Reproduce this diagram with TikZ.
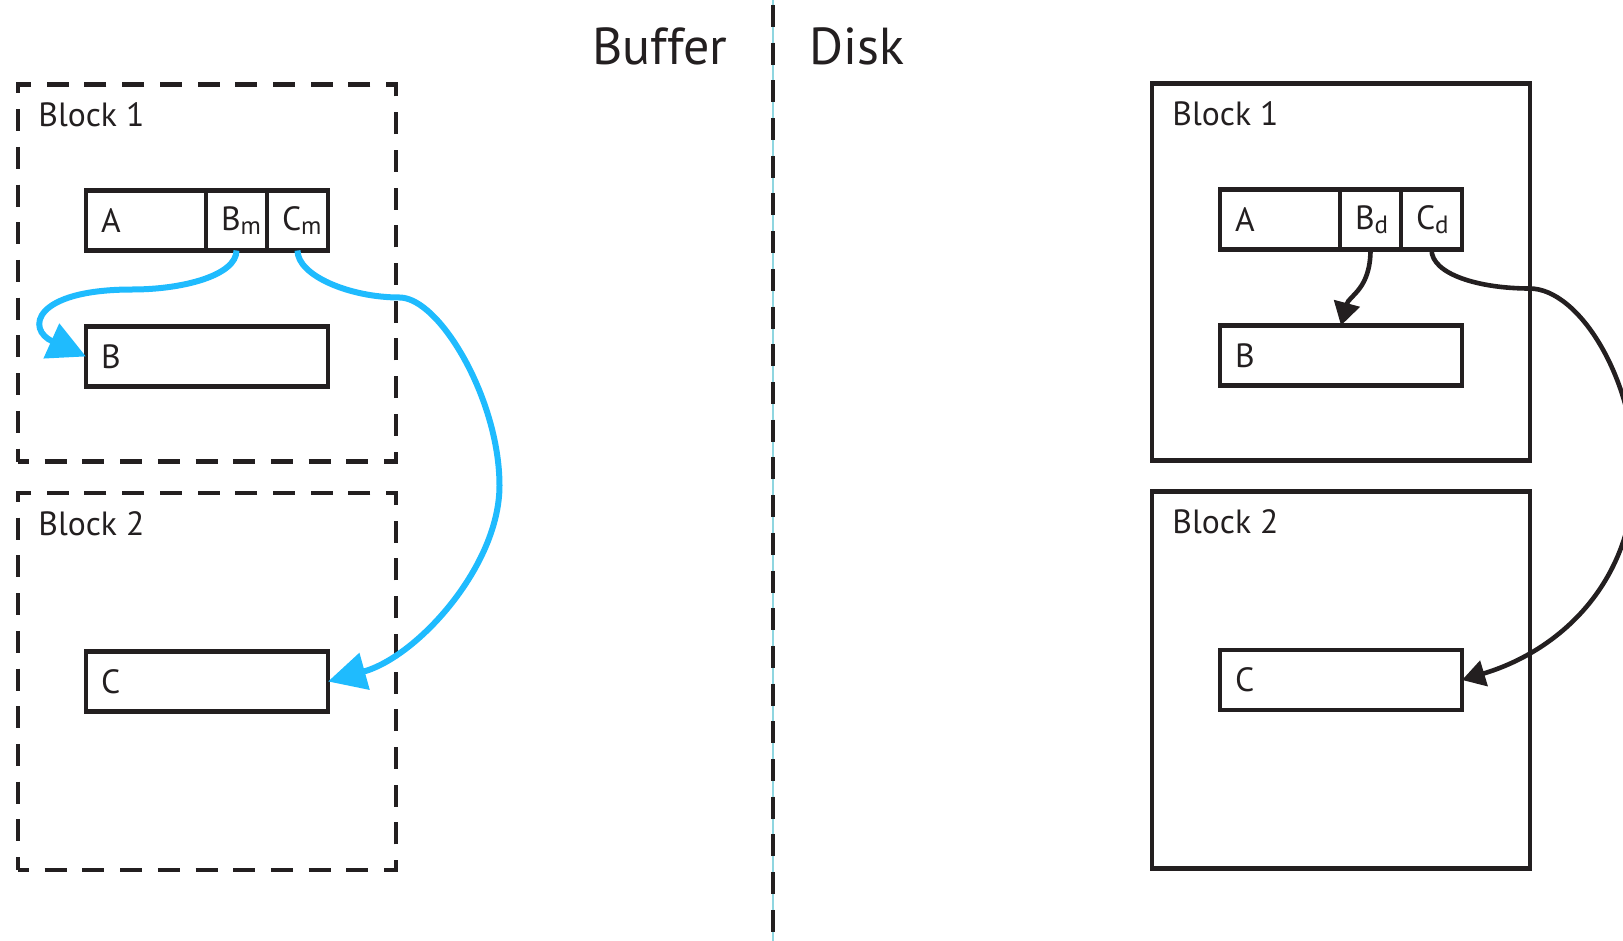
\documentclass[tikz,border=0pt]{standalone}
\usepackage{fontspec}
\setmainfont{PT Sans}
\usepackage{xcolor}
\usetikzlibrary{arrows.meta, positioning}

\definecolor{ink}{HTML}{231F20}
\definecolor{membar}{HTML}{1FBBFE}
\definecolor{guide}{HTML}{8FD6E0}

\newcommand{\lowsub}[1]{\raisebox{-2pt}{\fontsize{12.5}{13}\selectfont #1}}

\begin{document}
\begin{tikzpicture}[
    x=0.5pt, y=-0.5pt,
    frame/.style={rectangle, draw=ink, line width=2.3pt, minimum width=189pt, minimum height=188.5pt, inner sep=0pt, outer sep=0pt},
    dashframe/.style={frame, dash pattern=on 11pt off 7.85pt, dash phase=5.5pt},
    tag/.style={font=\fontsize{16.8}{18}\selectfont, text=ink, inner sep=0pt, anchor=base west},
    cell/.style={rectangle, draw=ink, line width=2.3pt, minimum height=30pt, inner xsep=7.5pt, inner ysep=0pt, outer sep=0pt, align=left, font=\fontsize{16.8}{18}\selectfont, text=ink},
    title/.style={font=\fontsize{26}{28}\selectfont, text=ink, inner sep=0pt},
    bufarrow/.style={-{Triangle[length=19pt, width=18.5pt]}, line width=3pt, membar},
    diskarrow/.style={-{Triangle[length=11.5pt, width=13pt]}, line width=2.3pt, ink}
]
\useasboundingbox (0,0) rectangle (1623,941);
\clip (0,0) rectangle (1623,941);

% divider
\coordinate (divtop) at (773,0);
\coordinate (divbot) at (773,941);
\draw[guide, line width=0.7pt] (divtop) -- (divbot);
\draw[ink, line width=2.3pt, dash pattern=on 11pt off 7.85pt, dash phase=16.35pt] (divtop) -- (divbot);

\node[title, anchor=base east] (buffer) at (728,65) {Buffer};
\node[title, anchor=base west] (disk) at (809,65) {Disk};

% buffer side
\node[dashframe] (bufblk1) at (207,273) {};
\node[dashframe] (bufblk2) at (207,681.5) {};
\node[tag] (buftag1) at ([shift={(20,42)}]bufblk1.north west) {Block 1};
\node[tag] (buftag2) at ([shift={(20,42)}]bufblk2.north west) {Block 2};

\node[cell, text width=45pt, below right=53pt and 34pt of bufblk1.north west] (bufa) {A};
\node[cell, text width=15.5pt, right=0pt of bufa] (bufbm) {B\lowsub{m}};
\node[cell, text width=15.5pt, right=0pt of bufbm] (bufcm) {C\lowsub{m}};
\node[cell, text width=106pt, below=38pt of bufa.south west, anchor=north west] (bufb) {B};
\node[cell, text width=106pt] (bufc) at (bufblk2) {C};

% disk side
\node[frame] (diskblk1) at (1341,272) {};
\node[frame] (diskblk2) at (1341,680) {};
\node[tag] (disktag1) at ([shift={(20,42)}]diskblk1.north west) {Block 1};
\node[tag] (disktag2) at ([shift={(20,42)}]diskblk2.north west) {Block 2};

\node[cell, text width=45pt, below right=53pt and 34pt of diskblk1.north west] (diska) {A};
\node[cell, text width=15.5pt, right=0pt of diska] (diskbd) {B\lowsub{d}};
\node[cell, text width=15.5pt, right=0pt of diskbd] (diskcd) {C\lowsub{d}};
\node[cell, text width=106pt, below=38pt of diska.south west, anchor=north west] (diskb) {B};
\node[cell, text width=106pt] (diskc) at (diskblk2) {C};

% arrows
\draw[bufarrow] (bufbm.south) .. controls +(0,25) and +(50,0) .. ++(-104,39)
    .. controls +(-100,0) and +(-60,-27) .. (bufb.west);
\draw[bufarrow] (bufcm.south) .. controls +(0,25) and +(-50,0) .. ++(102,47)
    .. controls +(40,0) and +(0,-86) .. ++(100,188)
    .. controls +(0,80) and +(90,-25) .. (bufc.east);
\draw[diskarrow] (diskbd.south) .. controls +(0,40) and +(8,-30) .. (diskb.north);
\draw[diskarrow] (diskcd.south) .. controls +(0,25) and +(-50,0) .. ++(98,39)
    .. controls +(50,0) and +(0,-90) .. ++(105,182)
    .. controls +(0,110) and +(100,-30) .. (diskc.east);

\end{tikzpicture}
\end{document}
